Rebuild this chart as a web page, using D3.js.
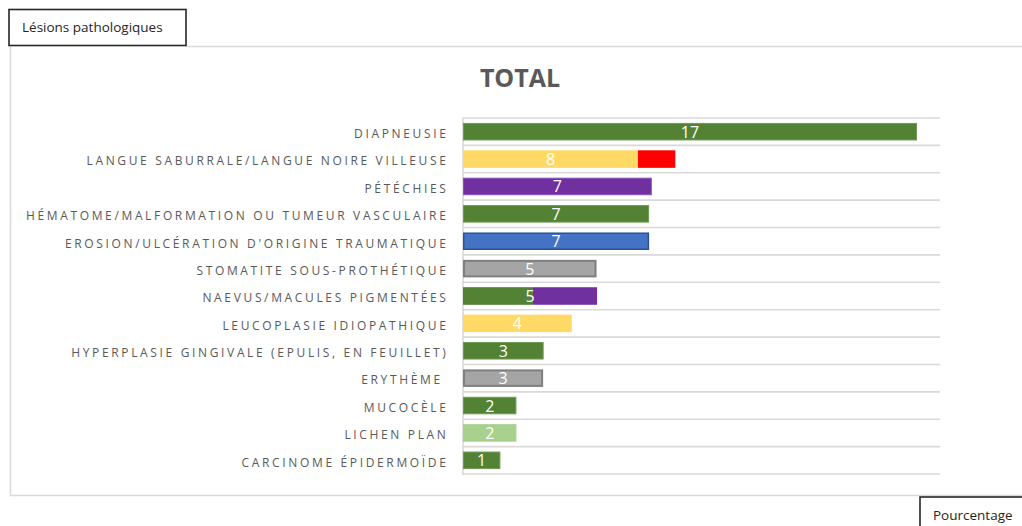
<!DOCTYPE html>
<html>
<head>
<meta charset="utf-8">
<script src="https://cdn.jsdelivr.net/npm/d3@7"></script>
<style>
  html, body { margin: 0; padding: 0; background: #fff; }
  svg { display: block; }
  text { font-family: "Open Sans", "DejaVu Sans", sans-serif; }
</style>
</head>
<body>
<svg id="chart" width="1022" height="526"></svg>
<script>
// ---- data ----
const categories = [
  "DIAPNEUSIE",
  "LANGUE SABURRALE/LANGUE NOIRE VILLEUSE",
  "PÉTÉCHIES",
  "HÉMATOME/MALFORMATION OU TUMEUR VASCULAIRE",
  "EROSION/ULCÉRATION D'ORIGINE TRAUMATIQUE",
  "STOMATITE SOUS-PROTHÉTIQUE",
  "NAEVUS/MACULES PIGMENTÉES",
  "LEUCOPLASIE IDIOPATHIQUE",
  "HYPERPLASIE GINGIVALE (EPULIS, EN FEUILLET)",
  "ERYTHÈME ",
  "MUCOCÈLE",
  "LICHEN PLAN",
  "CARCINOME ÉPIDERMOÏDE"
];
const segment1 = [17, 6.55, 7.07, 6.97, 6.97, 5.0, 2.62, 4.07, 3.02, 3.0, 2.0, 2.0, 1.4];
const segment2 = [0, 1.4, 0, 0, 0, 0, 2.4, 0, 0, 0, 0, 0, 0];
const color1 = ["#548235", "#FFD966", "#7030A0", "#548235", "#4472C4", "#A5A5A5", "#548235",
                "#FFD966", "#548235", "#A5A5A5", "#548235", "#A9D18E", "#548235"];
const color2 = [null, "#FF0000", null, null, null, null, "#7030A0", null, null, null, null, null, null];
const border1 = ["#6f9a52", "#FFD966", "#8a4fb8", "#6f9a52", "#2F528F", "#7F7F7F", "#548235",
                 "#FFD966", "#6f9a52", "#7F7F7F", "#6f9a52", "#A9D18E", "#6f9a52"];
const labels = ["17", "8", "7", "7", "7", "5", "5", "4", "3", "3", "2", "2", "1"];
const labelOnTotal = [false, false, false, false, false, false, true, false, false, false, false, false, false];
const title = "TOTAL";
const headerText = "Lésions pathologiques";
const footerText = "Pourcentage";

// ---- layout ----
const svg = d3.select("#chart");
const plot = { left: 463, right: 940, top: 118, bottom: 474 };

const x = d3.scaleLinear().domain([0, 17]).range([plot.left, 917]);
const y = d3.scaleBand().domain(categories).range([plot.top, plot.bottom]).paddingInner(0.36).paddingOuter(0.18);

// outer frame
svg.append("path")
  .attr("d", `M186,46.5 H1022 M10.5,46 V495.5 H1022`)
  .attr("fill", "none").attr("stroke", "#d9d9d9").attr("stroke-width", 1.5);

// header box
svg.append("rect").attr("x", 9).attr("y", 9.5).attr("width", 177).attr("height", 36)
  .attr("fill", "#fff").attr("stroke", "#262626").attr("stroke-width", 1.6);
svg.append("text").attr("x", 22).attr("y", 32).attr("font-size", 13.5).attr("fill", "#262626")
  .text(headerText);

// footer box
svg.append("rect").attr("x", 920).attr("y", 497).attr("width", 110).attr("height", 40)
  .attr("fill", "#fff").attr("stroke", "#262626").attr("stroke-width", 1.6);
svg.append("text").attr("x", 933).attr("y", 520).attr("font-size", 13.5).attr("fill", "#262626")
  .text(footerText);

// title
svg.append("text").attr("x", 520).attr("y", 87).attr("text-anchor", "middle")
  .attr("font-size", 25).attr("font-weight", "bold").attr("fill", "#595959")
  .text(title);

// gridlines (category boundaries)
const boundaries = d3.range(categories.length + 1).map(i => plot.top + i * (plot.bottom - plot.top) / categories.length);
svg.append("g").selectAll("line").data(boundaries).join("line")
  .attr("x1", plot.left).attr("x2", plot.right)
  .attr("y1", d => d).attr("y2", d => d)
  .attr("stroke", "#d9d9d9").attr("stroke-width", 1.6);

// axis line
svg.append("line").attr("x1", plot.left).attr("x2", plot.left)
  .attr("y1", plot.top).attr("y2", plot.bottom + 1)
  .attr("stroke", "#d9d9d9").attr("stroke-width", 1.6);

// category labels
svg.append("g").selectAll("text").data(categories).join("text")
  .attr("x", 448.5)
  .attr("y", d => y(d) + y.bandwidth() / 2 + 6.3)
  .attr("text-anchor", "end")
  .attr("font-size", 12)
  .attr("letter-spacing", "2.65px")
  .attr("fill", "#595959")
  .style("white-space", "pre")
  .text(d => d);

// bars
const rows = categories.map((c, i) => ({ c, i, v1: segment1[i], v2: segment2[i] }));
const bars = svg.append("g");
rows.forEach(r => {
  const thick = (border1[r.i] === "#7F7F7F") ? 2 : (border1[r.i] === "#2F528F" ? 1.5 : 1);
  const inset = thick / 2;
  bars.append("rect")
    .attr("x", x(0) + inset)
    .attr("y", y(r.c) + inset)
    .attr("width", x(r.v1) - x(0) - 2 * inset)
    .attr("height", y.bandwidth() - 2 * inset)
    .attr("fill", color1[r.i])
    .attr("stroke", border1[r.i])
    .attr("stroke-width", thick);
  if (r.v2 > 0) {
    bars.append("rect")
      .attr("x", x(r.v1))
      .attr("y", y(r.c))
      .attr("width", x(r.v1 + r.v2) - x(r.v1))
      .attr("height", y.bandwidth())
      .attr("fill", color2[r.i]);
  }
});

// value labels
svg.append("g").selectAll("text").data(rows).join("text")
  .attr("x", r => labelOnTotal[r.i] ? (x(0) + x(r.v1 + r.v2)) / 2 : (x(0) + x(r.v1)) / 2)
  .attr("y", r => y(r.c) + y.bandwidth() / 2 + 6)
  .attr("text-anchor", "middle")
  .attr("font-size", 16)
  .attr("fill", "#ffffff")
  .text(r => labels[r.i]);
</script>
</body>
</html>
